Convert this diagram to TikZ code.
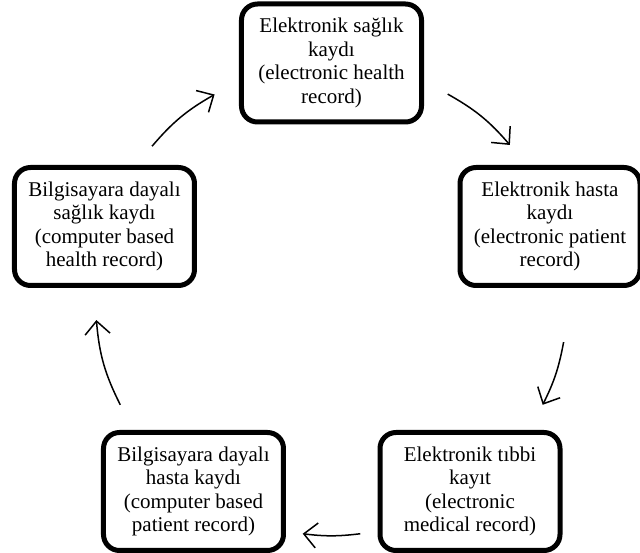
\documentclass[tikz,border=0pt]{standalone}
\usepackage{fontspec}
\setmainfont{Liberation Serif}
\usetikzlibrary{arrows.meta}

\begin{document}
\begin{tikzpicture}[x=1pt, y=1pt,
        recbox/.style={draw, line width=5pt, rounded corners=16pt, minimum width=180pt, minimum height=118pt, align=center, font=\fontsize{21}{23.5}\selectfont},
        cyc/.style={line width=1.5pt, -{Straight Barb[length=13pt, width=25pt]}}
    ]
      \useasboundingbox (-331.5,-253.5) rectangle (308.5,299.5);
      \node[recbox] (esk) at (0,236.5)
           {Elektronik sağlık\\kaydı\\(electronic health\\record)};
      \node[recbox] (ehk) at (218.5,73)
           {Elektronik hasta\\kaydı\\(electronic patient\\record)};
      \node[recbox] (etk) at (138.5,-192)
           {Elektronik tıbbi\\kayıt\\(electronic\\medical record)};
      \node[recbox] (bdhk) at (-138,-192)
           {Bilgisayara dayalı\\hasta kaydı\\(computer based\\patient record)};
      \node[recbox] (bdsk) at (-227,73)
           {Bilgisayara dayalı\\sağlık kaydı\\(computer based\\health record)};
      % arrow ends on the cycle circle
      \coordinate (a1s) at (139.5:236); \coordinate (a1e) at (119.7:236);
      \coordinate (a2s) at (60.5:236);  \coordinate (a2e) at (40.9:236);
      \coordinate (a3s) at (-10.4:236); \coordinate (a3e) at (-26.5:236);
      \coordinate (a4s) at (-83:236);   \coordinate (a4e) at (-97:236);
      \coordinate (a5s) at (-153.5:236); \coordinate (a5e) at (-175:236);
      \draw[cyc] (a1s) to[bend left=10] (a1e);
      \draw[cyc] (a2s) to[bend left=10] (a2e);
      \draw[cyc] (a3s) to[bend left=8] (a3e);
      \draw[cyc] (a4s) to[bend left=7] (a4e);
      \draw[cyc] (a5s) to[bend left=11] (a5e);
    \end{tikzpicture}
\end{document}
